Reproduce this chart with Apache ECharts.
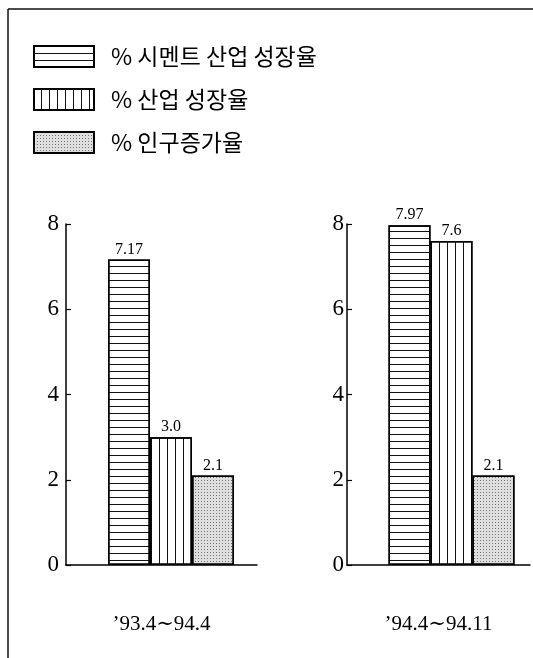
<!DOCTYPE html>
<html>
<head>
<meta charset="utf-8">
<script src="https://cdn.jsdelivr.net/npm/echarts@6/dist/echarts.min.js"></script>
<style>
html,body{margin:0;padding:0;background:#fff;}
#chart{width:533px;height:658px;}
</style>
</head>
<body>
<div id="chart"></div>
<script>
// ---- data ----
const seriesNames = ['% 시멘트 산업 성장율', '% 산업 성장율', '% 인구증가율'];
const periodLeft = ['’93.4∼94.4'];
const periodRight = ['’94.4∼94.11'];
const cementGrowth = [7.17, 7.97];   // left, right
const industryGrowth = [3.0, 7.6];
const populationGrowth = [2.1, 2.1];
const yTicks = [0, 2, 4, 6, 8];

// ---- styles ----
const serif = '"Liberation Serif", "DejaVu Serif", serif';
const kfont = '"Noto Sans CJK KR", sans-serif';
const styles = [
  {color: '#fff', borderColor: '#000', borderWidth: 1.5,
   decal: {symbol: 'rect', symbolSize: 1, dashArrayX: [1, 0], dashArrayY: [1, 6], rotation: 0, color: '#111'}},
  {color: '#fff', borderColor: '#000', borderWidth: 1.5,
   decal: {symbol: 'rect', symbolSize: 1, dashArrayX: [1, 0], dashArrayY: [1, 7], rotation: Math.PI / 2, color: '#111'}},
  {color: '#dedede', borderColor: '#000', borderWidth: 1.5,
   decal: {symbol: 'rect', symbolSize: 1, dashArrayX: [1, 2], dashArrayY: [1, 2], rotation: 0, color: 'rgba(50,50,50,0.6)'}}
];
const seriesValues = [cementGrowth, industryGrowth, populationGrowth];

function fmt(p) {
  const v = p.value;
  return Number.isInteger(v) ? v.toFixed(1) : String(v);
}

const grids = [
  {left: 66, top: 224, width: 191, height: 341},
  {left: 347, top: 224, width: 183, height: 341}
];
const spacerWidths = [19, 26];

function yAxis(gi, margin) {
  return {
    type: 'value', gridIndex: gi, min: yTicks[0], max: yTicks[yTicks.length - 1], interval: 2,
    axisLine: {show: true, lineStyle: {color: '#000', width: 1.5}},
    axisTick: {show: true, inside: true, length: 5, lineStyle: {color: '#000', width: 1.2}},
    axisLabel: {color: '#000', fontFamily: serif, fontSize: 23, margin: margin},
    splitLine: {show: false}
  };
}
function xAxis(gi, cats) {
  return {
    type: 'category', gridIndex: gi, data: cats,
    axisLine: {show: true, lineStyle: {color: '#000', width: 1.5}},
    axisTick: {show: false},
    axisLabel: {color: '#000', fontFamily: serif, fontSize: 21, margin: 49}
  };
}

const series = [];
[0, 1].forEach(gi => {
  series.push({
    name: 'spacer' + gi, type: 'bar', xAxisIndex: gi, yAxisIndex: gi,
    data: [null], barWidth: spacerWidths[gi], barGap: 0, silent: true,
    itemStyle: {color: 'transparent'}
  });
  seriesNames.forEach((nm, si) => {
    series.push({
      name: nm, type: 'bar', xAxisIndex: gi, yAxisIndex: gi,
      data: [seriesValues[si][gi]], barWidth: 42, barGap: 0,
      itemStyle: styles[si],
      label: {show: true, position: 'top', distance: 2, color: '#000', fontFamily: serif, fontSize: 16, formatter: fmt}
    });
  });
});

const chart = echarts.init(document.getElementById('chart'), null, {renderer: 'canvas'});
chart.setOption({
  backgroundColor: '#fff',
  animation: false,
  legend: {
    data: seriesNames, orient: 'vertical', left: 28, top: 40,
    itemWidth: 60, itemHeight: 21, itemGap: 20, icon: 'rect',
    selectedMode: false,
    textStyle: {color: '#000', fontFamily: kfont, fontSize: 23, padding: [0, 0, 0, 12]}
  },
  grid: grids,
  xAxis: [xAxis(0, periodLeft), xAxis(1, periodRight)],
  yAxis: [yAxis(0, 7), yAxis(1, 3)],
  series: series,
  graphic: [
    {type: 'line', shape: {x1: 8, y1: 9, x2: 533, y2: 9}, style: {stroke: '#111', lineWidth: 1.5}},
    {type: 'line', shape: {x1: 8, y1: 9, x2: 8, y2: 658}, style: {stroke: '#111', lineWidth: 1.5}}
  ]
});
</script>
</body>
</html>
